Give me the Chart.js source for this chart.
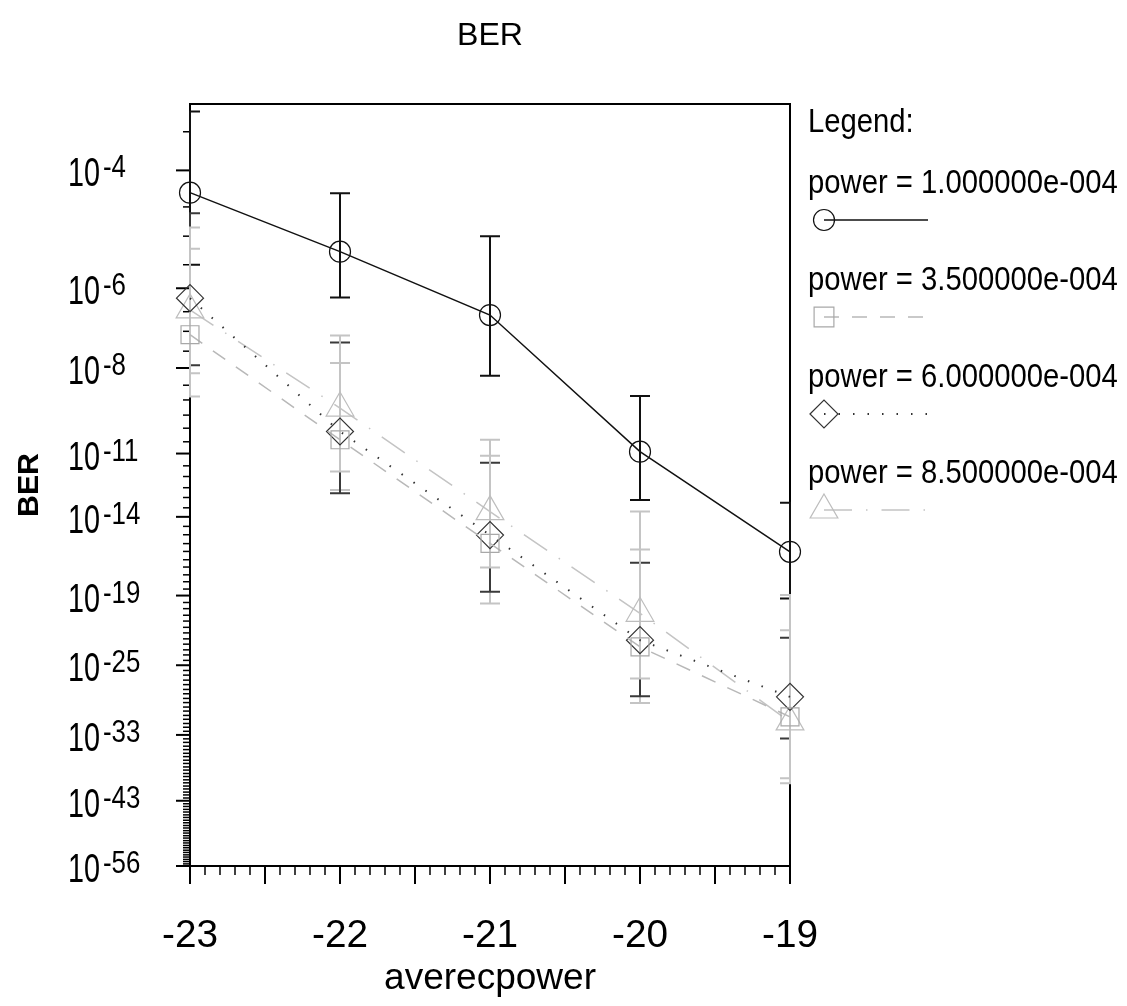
<!DOCTYPE html>
<html lang="en">
<head>
<meta charset="UTF-8">
<title>BER</title>
<script src="https://cdn.jsdelivr.net/npm/chart.js@4"></script>
<style>
    body { margin: 0; background: #fff; }
    .wrap { position: relative; width: 1127px; height: 1006px; }
</style>
</head>
<body>
<div class="wrap"><canvas id="berChart"></canvas></div>
<script>
    // x axis: averecpower
    const averecpower = [-23, -22, -21, -20, -19];

    const seriesLabels = [
        'power = 1.000000e-004',
        'power = 3.500000e-004',
        'power = 6.000000e-004',
        'power = 8.500000e-004'
    ];

    // BER (mean) and error bar bounds
    const ber1   = [4.9e-5, 5.3e-6, 2.5e-7, 1.2e-11, 9.5e-17];
    const ber1Hi = [5.0e-4, 4.8e-5, 1.0e-5, 1.35e-9, 5.5e-14];
    const ber1Lo = [3.0e-6, 6.3e-7, 5.9e-9, 7.5e-14, 6.0e-20];

    const ber2   = [8.2e-8, 3.6e-11, 3.1e-16, 5.7e-24, 2.0e-31];
    const ber2Hi = [6.0e-6, 1.4e-8, 8.0e-12, 1.3e-16, 1.7e-22];
    const ber2Lo = [1.3e-9, 2.3e-13, 2.5e-20, 9.2e-30, 8.6e-41];

    const ber3   = [6.1e-7, 7.5e-11, 9.6e-16, 2.3e-23, 4.5e-29];
    const ber3Hi = [2.4e-5, 5.1e-8, 4.1e-12, 1.9e-17, 3.7e-23];
    const ber3Lo = [1.2e-8, 1.6e-13, 1.9e-19, 5.4e-29, 3.3e-34];

    const ber4   = [3.3e-7, 5.3e-10, 1.9e-14, 4.3e-21, 4.7e-32];
    const ber4Hi = [1.4e-5, 7.8e-8, 3.6e-11, 1.9e-14, 1.1e-19];
    const ber4Lo = [7.0e-9, 1.7e-12, 9.5e-18, 4.5e-27, 5.4e-40];

    // y axis ticks (BER scale) and range
    const berTicks   = [1e-4, 1e-6, 1e-8, 1e-11, 1e-14, 1e-19, 1e-25, 1e-33, 1e-43, 1e-56];
    const berTickExp = ['-4', '-6', '-8', '-11', '-14', '-19', '-25', '-33', '-43', '-56'];
    const berRange   = [6e-4, 1e-56];

    // minor ticks at 1e-n and 3e-n
    const berMinor = [];
    for (let n = 4; n <= 56; n++) {
        berMinor.push(3 * Math.pow(10, -n));
        if (berTickExp.indexOf('-' + n) < 0) berMinor.push(Math.pow(10, -n));
    }

    // BER axis transform: log10 of the inverse Q function
    function lnQ(x) {
        const z = x / Math.SQRT2;
        const t = 1 / (1 + 0.5 * z);
        const lnErfc = Math.log(t) + (-z * z - 1.26551223 + t * (1.00002368 + t * (0.37409196 + t * (0.09678418 +
            t * (-0.18628806 + t * (0.27886807 + t * (-1.13520398 + t * (1.48851587 + t * (-0.82215223 + t * 0.17087277)))))))));
        return Math.log(0.5) + lnErfc;
    }
    function qinv(p) {
        const target = Math.log(p);
        let lo = 0, hi = 40;
        for (let i = 0; i < 80; i++) {
            const mid = (lo + hi) / 2;
            if (lnQ(mid) > target) lo = mid; else hi = mid;
        }
        return (lo + hi) / 2;
    }
    function tr(p) { return Math.log10(qinv(p)); }

    // fonts: the picture uses a tall, narrow sans
    const mctx = document.createElement('canvas').getContext('2d');
    function hasFont(name) {
        const s = 'abcdefghijklmnopqrstuvwxyz0123456789';
        mctx.font = '40px monospace';
        const w1 = mctx.measureText(s).width;
        mctx.font = "40px '" + name + "', monospace";
        return Math.abs(mctx.measureText(s).width - w1) > 0.5;
    }
    const NARROW = hasFont('Liberation Sans Narrow');
    const FAMILY = (NARROW ? "'Liberation Sans Narrow', " : '') + "'Liberation Sans', Arial, sans-serif";
    function fitSize(text, width, weight) {
        mctx.font = (weight || '') + ' 100px ' + FAMILY;
        return 100 * width / mctx.measureText(text).width;
    }
    const legendSize = fitSize('power = 1.000000e-004', 310);
    const yTickSize = fitSize('10', 32);
    const xTickSize = fitSize('-22', 56);
    const xTitleSize = fitSize('averecpower', 212);
    const titleSize = fitSize('BER', 66);
    const yTitleSize = fitSize('BER', 64, 'bold');
    // vertical stretch for the text drawn by hand
    const stretch = NARROW ? 1.1 : 1.3;

    function tallText(ctx, text, x, y, k) {
        ctx.save();
        ctx.translate(x, y);
        ctx.scale(1, k);
        ctx.fillText(text, 0, 0);
        ctx.restore();
    }

    function makeSet(label, values, hi, lo, style) {
        return Object.assign({
            label: label,
            data: averecpower.map((x, i) => ({ x: x, y: tr(values[i]) })),
            errHi: hi,
            errLo: lo,
            fill: false,
            tension: 0,
            clip: false,
            borderWidth: 1.5,
            pointBorderWidth: 1.2,
            pointBackgroundColor: 'rgba(0,0,0,0)'
        }, style);
    }

    const datasets = [
        makeSet(seriesLabels[0], ber1, ber1Hi, ber1Lo, {
            borderColor: '#111', pointBorderColor: '#111', pointStyle: 'circle', pointRadius: 10.5,
            errColor: '#111', legendRadius: 10.5
        }),
        makeSet(seriesLabels[1], ber2, ber2Hi, ber2Lo, {
            borderColor: '#b8b8b8', pointBorderColor: '#a8a8a8', pointStyle: 'rect', pointRadius: 12.7,
            borderDash: [15, 13], errColor: '#c4c4c4', legendRadius: 14
        }),
        makeSet(seriesLabels[2], ber3, ber3Hi, ber3Lo, {
            borderColor: '#333', pointBorderColor: '#333', pointStyle: 'rectRot', pointRadius: 13.5,
            borderDash: [1.5, 13], borderWidth: 2, errColor: '#3a3a3a', legendRadius: 14
        }),
        makeSet(seriesLabels[3], ber4, ber4Hi, ber4Lo, {
            borderColor: '#c4c4c4', pointBorderColor: '#bdbdbd', pointStyle: 'triangle', pointRadius: 16,
            borderDash: [28, 14, 1.5, 14], errColor: '#c4c4c4', legendRadius: 16
        })
    ];

    const berPlot = {
        id: 'berPlot',
        beforeDatasetsDraw(chart) {
            const { ctx, chartArea: a, scales: { x, y } } = chart;
            ctx.save();
            ctx.strokeStyle = '#000';
            ctx.lineWidth = 2;
            // top and right frame
            ctx.beginPath();
            ctx.moveTo(a.left, a.top);
            ctx.lineTo(a.right, a.top);
            ctx.lineTo(a.right, a.bottom);
            ctx.stroke();

            // x tick marks every 0.1
            for (let k = 0; k <= 40; k++) {
                const v = -23 + k / 10;
                const px = x.getPixelForValue(v);
                const len = k % 5 === 0 ? 18 : 9;
                ctx.lineWidth = k % 5 === 0 ? 2 : 1.5;
                ctx.beginPath();
                ctx.moveTo(px, a.bottom);
                ctx.lineTo(px, a.bottom + len);
                ctx.stroke();
            }
            // y tick marks
            ctx.lineWidth = 2;
            berTicks.forEach(p => {
                const py = y.getPixelForValue(tr(p));
                ctx.beginPath();
                ctx.moveTo(a.left - 14, py);
                ctx.lineTo(a.left, py);
                ctx.stroke();
            });
            ctx.lineWidth = 1.5;
            berMinor.forEach(p => {
                const v = tr(p);
                if (v < y.min || v > y.max) return;
                const py = y.getPixelForValue(v);
                ctx.beginPath();
                ctx.moveTo(a.left - 7, py);
                ctx.lineTo(a.left, py);
                ctx.stroke();
            });

            // error bars
            ctx.beginPath();
            ctx.rect(a.left - 1, a.top, a.right - a.left + 2, a.bottom - a.top);
            ctx.clip();
            ctx.lineWidth = 2;
            chart.data.datasets.forEach(ds => {
                ctx.strokeStyle = ds.errColor;
                averecpower.forEach((xv, j) => {
                    const px = x.getPixelForValue(xv);
                    const y1 = y.getPixelForValue(tr(ds.errHi[j]));
                    const y2 = y.getPixelForValue(tr(ds.errLo[j]));
                    ctx.beginPath();
                    ctx.moveTo(px, y1); ctx.lineTo(px, y2);
                    ctx.moveTo(px - 10, y1); ctx.lineTo(px + 10, y1);
                    ctx.moveTo(px - 10, y2); ctx.lineTo(px + 10, y2);
                    ctx.stroke();
                });
            });
            ctx.restore();
        },
        afterDraw(chart) {
            const { ctx, scales: { y } } = chart;
            ctx.save();
            ctx.fillStyle = '#000';
            ctx.textAlign = 'left';
            ctx.textBaseline = 'alphabetic';

            // y tick labels 10^n
            berTicks.forEach((p, i) => {
                const py = y.getPixelForValue(tr(p));
                ctx.font = yTickSize + 'px ' + FAMILY;
                const w = ctx.measureText('10').width;
                tallText(ctx, '10', 68, py + 16, stretch + 0.1);
                ctx.font = (yTickSize * 0.9) + 'px ' + FAMILY;
                tallText(ctx, berTickExp[i], 68 + w + 3, py + 7, stretch - 0.1);
            });

            // legend
            ctx.font = legendSize + 'px ' + FAMILY;
            tallText(ctx, 'Legend:', 808, 132, stretch - 0.15);
            const rows = [193, 290, 387, 483];
            chart.data.datasets.forEach((ds, i) => {
                ctx.fillStyle = '#000';
                tallText(ctx, ds.label, 808, rows[i], stretch - 0.15);
                const sy = rows[i] + 27;
                ctx.strokeStyle = ds.borderColor;
                ctx.lineWidth = ds.borderWidth;
                ctx.setLineDash(ds.borderDash || []);
                ctx.beginPath();
                ctx.moveTo(824, sy);
                ctx.lineTo(928, sy);
                ctx.stroke();
                ctx.setLineDash([]);
                ctx.strokeStyle = ds.pointBorderColor;
                ctx.fillStyle = 'rgba(0,0,0,0)';
                ctx.lineWidth = 1.2;
                Chart.helpers.drawPoint(ctx, {
                    pointStyle: ds.pointStyle, radius: ds.legendRadius, borderWidth: 1.2, rotation: 0
                }, 824, sy);
            });
            ctx.restore();
        }
    };

    Chart.defaults.color = '#000';

    new Chart(document.getElementById('berChart'), {
        type: 'line',
        data: { datasets: datasets },
        options: {
            responsive: true,
            maintainAspectRatio: false,
            animation: false,
            events: [],
            layout: { padding: { left: 0, right: 337, top: 0, bottom: 0 } },
            plugins: {
                legend: { display: false },
                tooltip: { enabled: false },
                title: {
                    display: true,
                    text: 'BER',
                    fullSize: false,
                    color: '#000',
                    font: { family: FAMILY, size: titleSize, weight: 'normal', lineHeight: 1.2 },
                    padding: { top: 36 - 0.6 * titleSize, bottom: 104 - 1.2 * titleSize - (36 - 0.6 * titleSize) }
                }
            },
            scales: {
                x: {
                    type: 'linear',
                    position: 'bottom',
                    min: -23,
                    max: -19,
                    grid: { display: false, drawTicks: false },
                    border: { display: true, color: '#000', width: 2 },
                    ticks: {
                        stepSize: 1,
                        color: '#000',
                        padding: 70 - 0.6 * xTickSize,
                        font: { family: FAMILY, size: xTickSize },
                        callback: v => String(v)
                    },
                    title: {
                        display: true,
                        text: 'averecpower',
                        color: '#000',
                        font: { family: FAMILY, size: xTitleSize },
                        padding: { top: 0, bottom: 1006 - 979 - 0.6 * xTitleSize }
                    },
                    afterFit(scale) { scale.height = 140; }
                },
                y: {
                    type: 'linear',
                    reverse: true,
                    min: tr(berRange[0]),
                    max: tr(berRange[1]),
                    grid: { display: false, drawTicks: false },
                    border: { display: true, color: '#000', width: 2 },
                    ticks: { display: false },
                    title: {
                        display: true,
                        text: 'BER',
                        color: '#000',
                        font: { family: FAMILY, size: yTitleSize, weight: 'bold' },
                        padding: { top: 30 - 0.6 * yTitleSize, bottom: 0 }
                    },
                    afterFit(scale) { scale.width = 190; }
                }
            }
        },
        plugins: [berPlot]
    });
</script>
</body>
</html>
